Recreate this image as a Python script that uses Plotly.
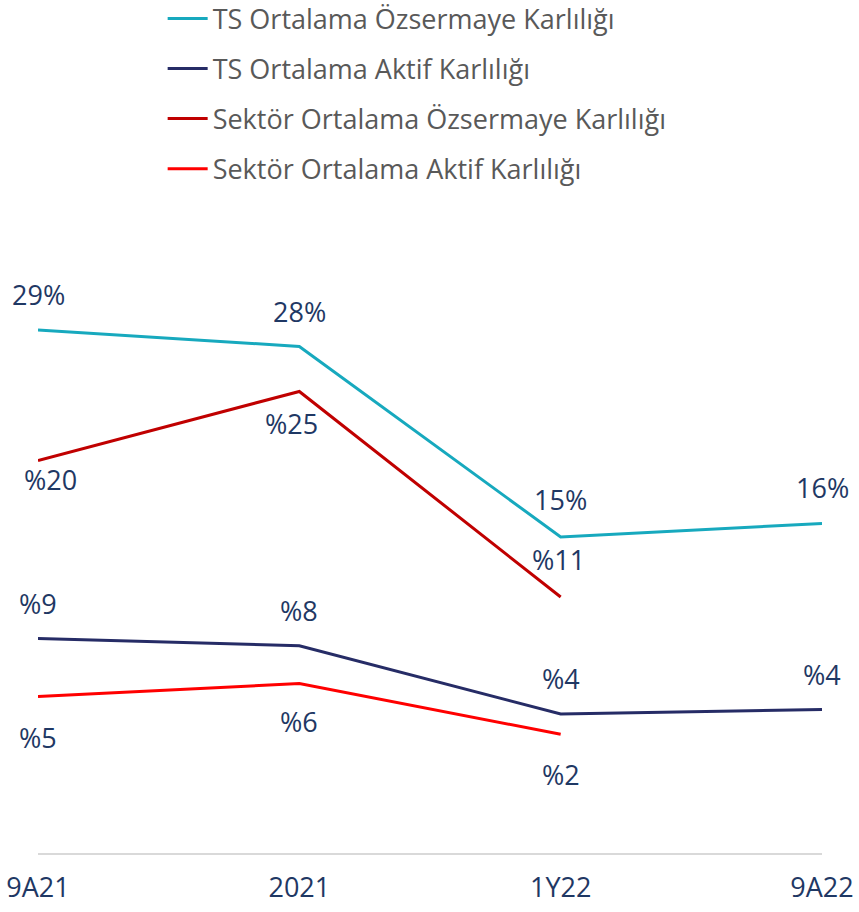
import plotly.graph_objects as go

categories = ["9A21", "2021", "1Y22", "9A22"]

ts_roe = [28.8, 27.7, 15.0, 15.9]
ts_roa = [9.0, 8.5, 3.8, 4.1]
sector_roe = [20.1, 24.7, 11.0, None]
sector_roa = [5.0, 5.9, 2.4, None]

ts_roe_labels = ["29%", "28%", "15%", "16%"]
ts_roa_labels = ["%9", "%8", "%4", "%4"]
sector_roe_labels = ["%20", "%25", "%11", None]
sector_roa_labels = ["%5", "%6", "%2", None]

names = [
    "TS Ortalama Özsermaye Karlılığı",
    "TS Ortalama Aktif Karlılığı",
    "Sektör Ortalama Özsermaye Karlılığı",
    "Sektör Ortalama Aktif Karlılığı",
]

FONT = "Open Sans, sans-serif"
LABEL_COLOR = "#1F3864"

# label pixel offsets (style only): (dx, dy) per point
series = [
    (names[0], ts_roe, ts_roe_labels, "#17A9BE", "y",
     [(0, 35), (0, 35), (0, 37), (0, 36)]),
    (names[1], ts_roa, ts_roa_labels, "#262C66", "y2",
     [(0, 35), (0, 35), (0, 35), (0, 35)]),
    (names[2], sector_roe, sector_roe_labels, "#C00000", "y",
     [(12, -19), (-8, -32), (-2, 37), None]),
    (names[3], sector_roa, sector_roa_labels, "#FF0000", "y2",
     [(0, -41), (0, -38), (0, -40), None]),
]

fig = go.Figure()
annotations = []
for i, (name, vals, labels, color, yax, offs) in enumerate(series):
    fig.add_trace(go.Scatter(
        x=categories, y=vals, name=name, mode="lines",
        line=dict(color=color, width=3), yaxis=yax,
        legendgroup=f"g{i}", connectgaps=False,
    ))
    for k, (v, lab, off) in enumerate(zip(vals, labels, offs)):
        if v is None:
            continue
        annotations.append(dict(
            x=k, y=v, xref="x", yref=yax, text=lab, showarrow=False,
            xshift=off[0], yshift=off[1],
            font=dict(family=FONT, size=27, color=LABEL_COLOR),
        ))

# plot area: top 250px, bottom 853px (height 603)
fig.update_layout(
    width=859, height=912,
    margin=dict(l=38, r=37, t=250, b=59, autoexpand=False),
    paper_bgcolor="white", plot_bgcolor="white",
    font=dict(family=FONT, size=27, color=LABEL_COLOR),
    showlegend=True,
    legend=dict(
        x=0.159, y=1.424, xanchor="left", yanchor="top",
        orientation="v", font=dict(family=FONT, size=27, color="#595959"),
        tracegroupgap=12, bgcolor="rgba(0,0,0,0)", itemwidth=40,
    ),
    xaxis=dict(
        type="category", range=[0, 3], showgrid=False, zeroline=False,
        showline=True, linecolor="#D9D9D9", linewidth=2, automargin=False,
        ticks="outside", ticklen=10, tickcolor="rgba(0,0,0,0)",
        tickfont=dict(family=FONT, size=27, color=LABEL_COLOR),
    ),
    yaxis=dict(range=[-6.07, 34.13], visible=False, showgrid=False, zeroline=False),
    yaxis2=dict(range=[-5.79, 35.8], overlaying="y", visible=False,
                showgrid=False, zeroline=False),
    annotations=annotations,
)

fig.write_html(
    "out.html",
    config={"displayModeBar": False},
    post_script="document.body.style.margin='0px';document.body.style.overflow='hidden';",
)
